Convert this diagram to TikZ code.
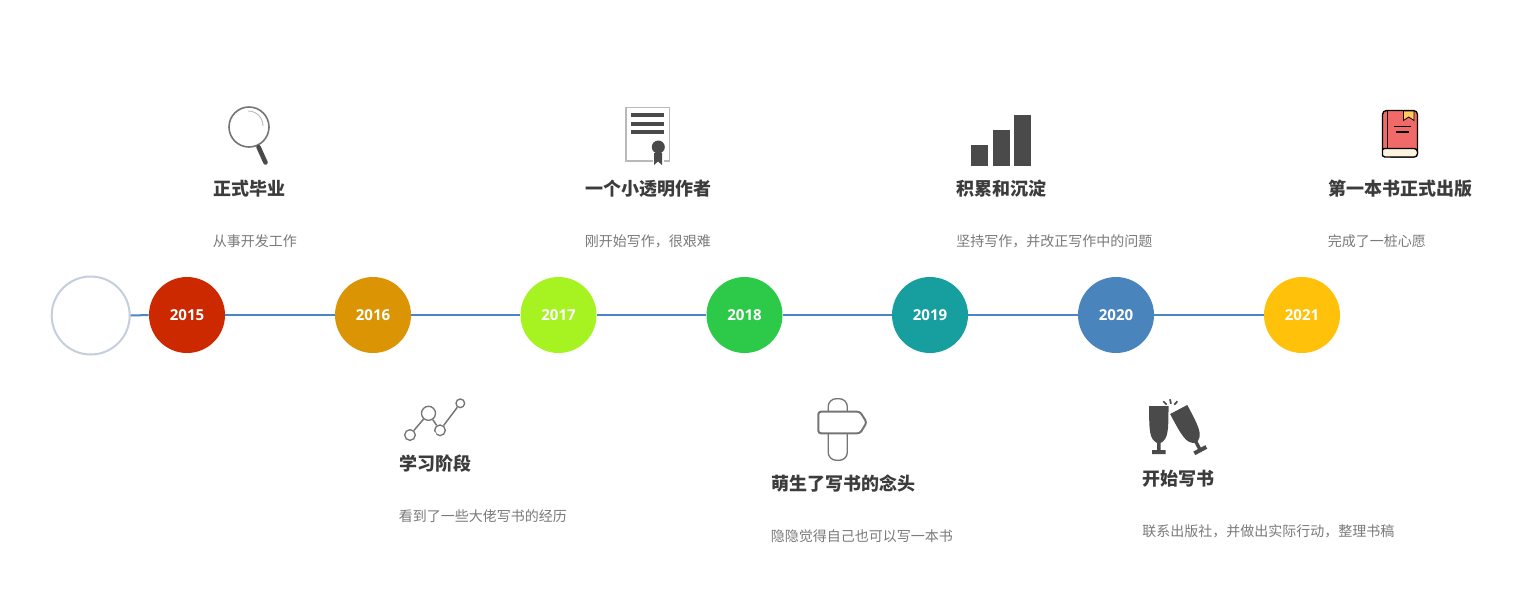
\documentclass[tikz,border=0pt]{standalone}
\usepackage{fontspec}
\setmainfont{Noto Sans CJK SC}
\newfontfamily\yearfont{Open Sans}
\definecolor{axisblue}{HTML}{4A86C5}
\definecolor{ringc}{HTML}{C5CFDC}
\definecolor{titlec}{HTML}{3C3C3C}
\definecolor{subc}{HTML}{7A7A7A}
\definecolor{icondark}{HTML}{4A4A4A}
\definecolor{icongrey}{HTML}{757575}
\definecolor{bookred}{HTML}{F06A6A}
\definecolor{bookyellow}{HTML}{FFC95C}
\definecolor{bookcream}{HTML}{FDF3DF}
\newcommand{\glassshape}{(-9.7,0) -- (9.7,0) .. controls (9.7,26) and (9.3,33) .. (1.7,37) -- (1.7,44) -- (6.8,44) -- (6.8,48) -- (-6.8,48) -- (-6.8,44) -- (-1.7,44) -- (-1.7,37) .. controls (-9.3,33) and (-9.7,26) .. (-9.7,0) -- cycle}
\tikzset{
  yearball/.style={circle,minimum size=57pt,inner sep=0pt,text=white,font=\yearfont\bfseries\fontsize{11.3pt}{12pt}\selectfont},
  titletext/.style={anchor=west,inner sep=0pt,text=titlec,font=\bfseries\fontsize{13.5pt}{16pt}\selectfont},
  subtext/.style={anchor=west,inner sep=0pt,text=subc,font=\fontsize{10.5pt}{13pt}\selectfont},
  axisline/.style={draw=axisblue,line width=1.5pt},
  dot/.style={circle,draw=icongrey,fill=white,line width=1pt,inner sep=0pt},
  link/.style={draw=icongrey,line width=1.1pt},
}
\begin{document}
\begin{tikzpicture}[x=0.75pt,y=-0.75pt]
\useasboundingbox (0,0) rectangle (1528,601);
\fill[white] (0,0) rectangle (1528,601);
% ring and year balls
\node[circle,minimum size=58.5pt,inner sep=0pt,draw=ringc,line width=1.5pt,fill=white] (ring) at (90.7,315.5) {};
\node[yearball,fill={rgb,255:red,204;green,41;blue,0}] (y15) at (187,315) {2015};
\node[yearball,fill={rgb,255:red,219;green,149;blue,4}] (y16) at (373,315) {2016};
\node[yearball,fill={rgb,255:red,166;green,243;blue,33}] (y17) at (558.5,315) {2017};
\node[yearball,fill={rgb,255:red,45;green,202;blue,73}] (y18) at (744.5,315) {2018};
\node[yearball,fill={rgb,255:red,23;green,159;blue,160}] (y19) at (930,315) {2019};
\node[yearball,fill={rgb,255:red,74;green,132;blue,189}] (y20) at (1116,315) {2020};
\node[yearball,fill={rgb,255:red,255;green,193;blue,10}] (y21) at (1302,315) {2021};
\draw[axisline] (ring) -- (y15);
\draw[axisline] (y15) -- (y16);
\draw[axisline] (y16) -- (y17);
\draw[axisline] (y17) -- (y18);
\draw[axisline] (y18) -- (y19);
\draw[axisline] (y19) -- (y20);
\draw[axisline] (y20) -- (y21);
% texts
\node[titletext] (t1) at (213,188.5) {正式毕业};
\node[subtext] (s1) at (212.7,241) {从事开发工作};
\node[titletext] (t2) at (399,463.5) {学习阶段};
\node[subtext] (s2) at (398.7,516) {看到了一些大佬写书的经历};
\node[titletext] (t3) at (584.8,188.5) {一个小透明作者};
\node[subtext] (s3) at (584.5,241) {刚开始写作，很艰难};
\node[titletext] (t4) at (770.8,483.5) {萌生了写书的念头};
\node[subtext] (s4) at (770.5,536) {隐隐觉得自己也可以写一本书};
\node[titletext] (t5) at (956,188.5) {积累和沉淀};
\node[subtext] (s5) at (956,241) {坚持写作，并改正写作中的问题};
\node[titletext] (t6) at (1142,478.5) {开始写书};
\node[subtext] (s6) at (1142,531) {联系出版社，并做出实际行动，整理书稿};
\node[titletext] (t7) at (1328,188.5) {第一本书正式出版};
\node[subtext] (s7) at (1327.7,241) {完成了一桩心愿};
% magnifier
\draw[icongrey,line width=1.2pt] (249,127) circle[radius=20*0.75pt];
\draw[gray!60,line width=0.6pt] (248,111) .. controls (257,111) and (263,118) .. (263,126);
\draw[icondark,line width=3.4pt,line cap=round] (258.5,147) -- (265.5,162.5);
% certificate
\draw[gray!55,line width=0.9pt] (626,107.5) rectangle (669.3,161);
\foreach \yy in {114.7,123.7,131.7} \draw[icondark,line width=3pt] (631,\yy) -- (664.3,\yy);
\fill[white] (652.5,153) rectangle (663.5,163);
\fill[icondark] (654,153) -- (662,153) -- (662,165) -- (658,161.5) -- (654,165) -- cycle;
\fill[icondark] (658.3,147) circle[radius=6.5*0.75pt];
% bars
\fill[icondark] (971,145) rectangle (988.3,166.3);
\fill[icondark] (992.7,130) rectangle (1010,166.3);
\fill[icondark] (1014.3,115.3) rectangle (1031.3,166.3);
% book
\draw[black,line width=1pt,fill=bookred,rounded corners=3pt] (1382.5,151) -- (1382.5,110.5) -- (1417.5,110.5) -- (1417.5,157) -- (1388,157) -- (1382.5,151) -- cycle;
\draw[black,line width=1pt,fill=bookcream,rounded corners=2.5pt] (1417.5,148.5) -- (1388,148.5) .. controls (1384,148.5) and (1382.5,150) .. (1382.5,152.5) .. controls (1382.5,155) and (1384,157) .. (1388,157) -- (1417.5,157) -- cycle;
\draw[black,line width=1pt] (1387.5,111) -- (1387.5,148);
\draw[black,line width=0.6pt,fill=bookyellow] (1403.5,111) -- (1414,111) -- (1414,120.5) -- (1408.7,117) -- (1403.5,120.5) -- cycle;
\draw[black,line width=1pt] (1394,126.7) -- (1410.7,126.7);
\draw[black,line width=1pt] (1396,132) -- (1409.3,132);
% chart
\node[dot,minimum size=8pt] (d1) at (410,435) {};
\node[dot,minimum size=10.5pt] (d2) at (428.5,413.3) {};
\node[dot,minimum size=8pt] (d3) at (440,430.3) {};
\node[dot,minimum size=6.5pt] (d4) at (460.3,403.3) {};
\draw[link] (d1) -- (d2);
\draw[link] (d2) -- (d3);
\draw[link] (d3) -- (d4);
% signpost
\draw[icongrey,line width=1pt,rounded corners=6pt] (828.2,411.7) -- (828.2,398.7) -- (847.3,398.7) -- (847.3,411.7);
\draw[icongrey,line width=1pt,rounded corners=6pt] (828.2,433.3) -- (828.2,460.3) -- (847.3,460.3) -- (847.3,433.3);
\draw[icongrey,line width=1.5pt,rounded corners=2pt] (818.3,411.7) -- (860,411.7) -- (866.7,422.4) -- (860,433.3) -- (818.3,433.3) -- cycle;
% glasses
\fill[icondark,shift={(1158.8,406)}] \glassshape;
\fill[icondark,shift={(1178.7,409.5)},rotate=28] \glassshape;
\foreach \bx/\by in {1155.7,427,1161.7,430.3,1157.7,434.3,1185,429.7,1191,430.3,1190,434.3}
  \fill[white] (\bx,\by) circle[radius=1.5pt];
\draw[icondark,line width=1.3pt] (1163.3,401.3) -- (1166.7,404.7);
\draw[icondark,line width=1.3pt] (1170,399.3) -- (1171,403.7);
\draw[icondark,line width=1.3pt] (1177.3,401.3) -- (1174.3,404.7);
\end{tikzpicture}
\end{document}
